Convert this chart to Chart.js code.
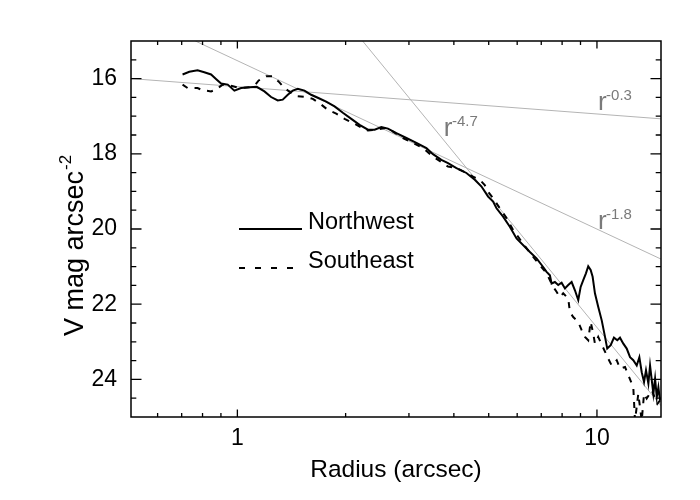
<!DOCTYPE html>
<html>
<head>
<meta charset="utf-8">
<script src="https://cdn.jsdelivr.net/npm/chart.js@4.4.1/dist/chart.umd.min.js"></script>
<style>
  html, body { margin: 0; padding: 0; background: #fff; }
</style>
</head>
<body>
<canvas id="profileChart" width="700" height="500"></canvas>
<script>
// Perfil de brillo superficial, dos lados de la galaxia
const nwRadius = [0.704,0.735,0.775,0.809,0.845,0.872,0.901,0.940,0.981,1.024,
  1.080,1.132,1.189,1.241,1.295,1.337,1.381,1.426,1.472,1.537,
  1.604,1.674,1.766,1.863,1.965,2.074,2.187,2.307,2.408,2.514,
  2.623,2.768,2.951,3.147,3.355,3.499,3.693,3.853,4.067,4.335,
  4.573,4.774,4.980,5.142,5.256,5.483,5.724,5.975,6.509,6.792,
  7.086,7.243,7.398,7.479,7.639,7.803,7.975,8.146,8.320,8.503,
  8.685,8.871,9.009,9.160,9.319,9.457,9.604,9.727,9.872,10.08,
  10.31,10.53,10.68,10.92,11.15,11.39,11.59,11.84,12.10,12.36,
  12.62,12.90,13.12,13.32,13.52,13.69,13.90,14.05,14.21,14.35,
  14.51,14.67,14.82,14.98];
const nwMag = [15.89,15.82,15.78,15.83,15.89,16.01,16.13,16.16,16.32,16.25,
  16.23,16.22,16.34,16.49,16.58,16.56,16.43,16.32,16.27,16.32,
  16.43,16.51,16.61,16.74,16.91,17.07,17.23,17.36,17.36,17.29,
  17.33,17.45,17.58,17.71,17.85,18.01,18.16,18.25,18.38,18.51,
  18.69,18.87,19.14,19.27,19.45,19.67,19.94,20.25,20.61,20.78,
  21.01,21.14,21.23,21.45,21.41,21.49,21.43,21.58,21.49,21.41,
  21.63,21.89,21.54,21.36,21.18,20.99,21.09,21.27,21.71,22.07,
  22.43,22.87,23.18,23.09,22.89,22.96,22.89,23.05,23.18,23.41,
  23.49,23.63,23.41,23.81,24.07,23.76,24.11,23.63,24.03,24.38,
  23.98,24.47,24.21,24.56];

const seRadius = [0.704,0.727,0.775,0.800,0.845,0.872,0.910,0.950,1.013,1.080,
  1.122,1.146,1.202,1.254,1.309,1.352,1.411,1.472,1.554,1.621,
  1.710,1.784,1.883,1.987,2.096,2.211,2.307,2.434,2.596,2.708,
  2.887,3.047,3.282,3.499,3.732,3.853,4.067,4.335,4.522,4.721,
  4.875,4.980,5.142,5.369,5.604,5.847,6.578,6.938,7.243,7.556,
  7.721,7.887,8.056,8.320,8.410,8.590,8.871,9.067,9.261,9.457,
  9.604,9.765,9.872,10.08,10.75,10.99,11.35,11.59,11.97,12.23,
  12.62,12.76,13.03,13.32,13.52,13.75,14.21,14.51,14.72,14.98];
const seMag = [16.16,16.25,16.25,16.31,16.34,16.29,16.16,16.18,16.25,16.23,
  16.16,16.05,15.94,15.94,16.10,16.25,16.38,16.47,16.49,16.54,
  16.69,16.83,16.93,17.07,17.18,17.30,17.38,17.36,17.31,17.41,
  17.58,17.69,17.85,18.07,18.25,18.34,18.38,18.51,18.61,18.69,
  18.83,19.01,19.18,19.45,19.71,20.03,20.69,20.96,21.18,21.54,
  21.67,21.81,21.71,21.85,22.21,22.34,22.47,22.69,22.87,22.96,
  22.47,22.78,23.05,22.87,23.45,23.63,23.49,23.71,23.67,23.89,
  24.21,25.10,24.38,25.10,24.38,24.51,24.29,24.51,24.65,24.56];

// Ajustes de ley de potencia (extremos)
const fitLabels = ['-0.3', '-1.8', '-4.7'];
const fitRadius = [[0.506, 15.07], [0.764, 15.07], [2.23, 15.07]];
const fitMag = [[16.0, 17.07], [15.0, 20.8], [15.0, 24.7]];

const xMajorTicks = [1, 10];
const xMinorTicks = [0.6, 0.7, 0.8, 0.9, 2, 3, 4, 5, 6, 7, 8, 9];
const yMajorTicks = [16, 18, 20, 22, 24];
const yMinorTicks = [15.5, 16.5, 17, 17.5, 18.5, 19, 19.5, 20.5, 21, 21.5, 22.5, 23, 23.5, 24.5];

const FONT = "'Liberation Sans', Arial, Helvetica, sans-serif";

function toPoints(xs, ys) {
  return xs.map((x, i) => ({ x: x, y: ys[i] }));
}

// Marco, marcas interiores, leyenda y etiquetas
const framePlugin = {
  id: 'frame',
  afterDatasetsDraw(chart) {
    const ctx = chart.ctx;
    const a = chart.chartArea;
    const xs = chart.scales.x;
    const ys = chart.scales.y;
    ctx.save();
    ctx.strokeStyle = '#000';
    ctx.lineWidth = 1.5;
    ctx.strokeRect(a.left, a.top, a.right - a.left, a.bottom - a.top);

    ctx.lineWidth = 1.3;
    ctx.beginPath();
    const xTick = (v, len) => {
      const p = xs.getPixelForValue(v);
      ctx.moveTo(p, a.bottom); ctx.lineTo(p, a.bottom - len);
      ctx.moveTo(p, a.top); ctx.lineTo(p, a.top + len);
    };
    const yTick = (v, len) => {
      const p = ys.getPixelForValue(v);
      ctx.moveTo(a.left, p); ctx.lineTo(a.left + len, p);
      ctx.moveTo(a.right, p); ctx.lineTo(a.right - len, p);
    };
    xMajorTicks.forEach(v => xTick(v, 7.5));
    xMinorTicks.forEach(v => xTick(v, 4));
    yMajorTicks.forEach(v => yTick(v, 10.5));
    yMinorTicks.forEach(v => yTick(v, 5.3));
    ctx.stroke();

    // leyenda
    const ds = chart.data.datasets;
    ctx.font = '23.5px ' + FONT;
    ctx.fillStyle = '#000';
    ctx.textBaseline = 'alphabetic';
    ctx.lineWidth = 2;
    ctx.beginPath();
    ctx.moveTo(239, 229); ctx.lineTo(302, 229);
    ctx.stroke();
    ctx.fillText(ds[0].label, 308, 229);
    ctx.setLineDash([6, 10]);
    ctx.beginPath();
    ctx.moveTo(239, 268); ctx.lineTo(295, 268);
    ctx.stroke();
    ctx.setLineDash([]);
    ctx.fillText(ds[1].label, 308, 268);

    // etiquetas r^n
    const anchors = [[10.06, 16.83], [10.06, 20.0], [3.75, 17.52]];
    ctx.fillStyle = '#7a7a7a';
    fitLabels.forEach((t, i) => {
      const px = xs.getPixelForValue(anchors[i][0]);
      const py = ys.getPixelForValue(anchors[i][1]);
      ctx.font = '26px ' + FONT;
      ctx.fillText('r', px, py);
      const w = ctx.measureText('r').width;
      ctx.font = '15px ' + FONT;
      ctx.fillText(t, px + w - 0.5, py - 10);
    });

    // título eje Y con superíndice
    ctx.fillStyle = '#000';
    ctx.translate(83, 336);
    ctx.rotate(-Math.PI / 2);
    ctx.font = '27px ' + FONT;
    const main = 'V mag arcsec';
    ctx.fillText(main, 0, 0);
    const mw = ctx.measureText(main).width;
    ctx.font = '17px ' + FONT;
    ctx.fillText('-2', mw + 1, -12);
    ctx.restore();
  }
};

function createProfileChart() {
  const ctx = document.getElementById('profileChart').getContext('2d');
  const datasets = [
    {
      label: 'Northwest',
      data: toPoints(nwRadius, nwMag),
      borderColor: '#000',
      borderWidth: 2,
      pointRadius: 0,
      tension: 0
    },
    {
      label: 'Southeast',
      data: toPoints(seRadius, seMag),
      borderColor: '#000',
      borderWidth: 2,
      borderDash: [6, 7],
      pointRadius: 0,
      tension: 0
    }
  ];
  fitLabels.forEach((t, i) => {
    datasets.push({
      label: 'r' + t,
      data: toPoints(fitRadius[i], fitMag[i]),
      borderColor: '#b4b4b4',
      borderWidth: 1,
      pointRadius: 0,
      tension: 0
    });
  });

  new Chart(ctx, {
    type: 'line',
    data: { datasets: datasets },
    options: {
      responsive: false,
      animation: false,
      layout: { padding: { top: 41, right: 39, left: 0, bottom: 0 } },
      plugins: {
        legend: { display: false },
        tooltip: { enabled: false }
      },
      scales: {
        x: {
          type: 'logarithmic',
          min: 0.506,
          max: 15.07,
          afterBuildTicks: s => { s.ticks = xMajorTicks.map(v => ({ value: v })); },
          afterFit: s => { s.height = 83; },
          grid: { display: false, drawTicks: false },
          border: { display: false },
          ticks: {
            color: '#000',
            padding: 8,
            maxRotation: 0,
            autoSkip: false,
            font: { family: FONT, size: 23 },
            callback: v => String(v)
          },
          title: {
            display: true,
            text: 'Radius (arcsec)',
            color: '#000',
            font: { family: FONT, size: 24.5 },
            padding: { top: 0, bottom: 15 }
          }
        },
        y: {
          type: 'linear',
          min: 15,
          max: 25,
          reverse: true,
          afterBuildTicks: s => { s.ticks = yMajorTicks.map(v => ({ value: v })); },
          afterFit: s => { s.width = 131; },
          grid: { display: false, drawTicks: false },
          border: { display: false },
          ticks: {
            color: '#000',
            padding: 14,
            autoSkip: false,
            font: { family: FONT, size: 23 }
          }
        }
      }
    },
    plugins: [framePlugin]
  });
}

document.addEventListener('DOMContentLoaded', function() {
  createProfileChart();
});
</script>
</body>
</html>
